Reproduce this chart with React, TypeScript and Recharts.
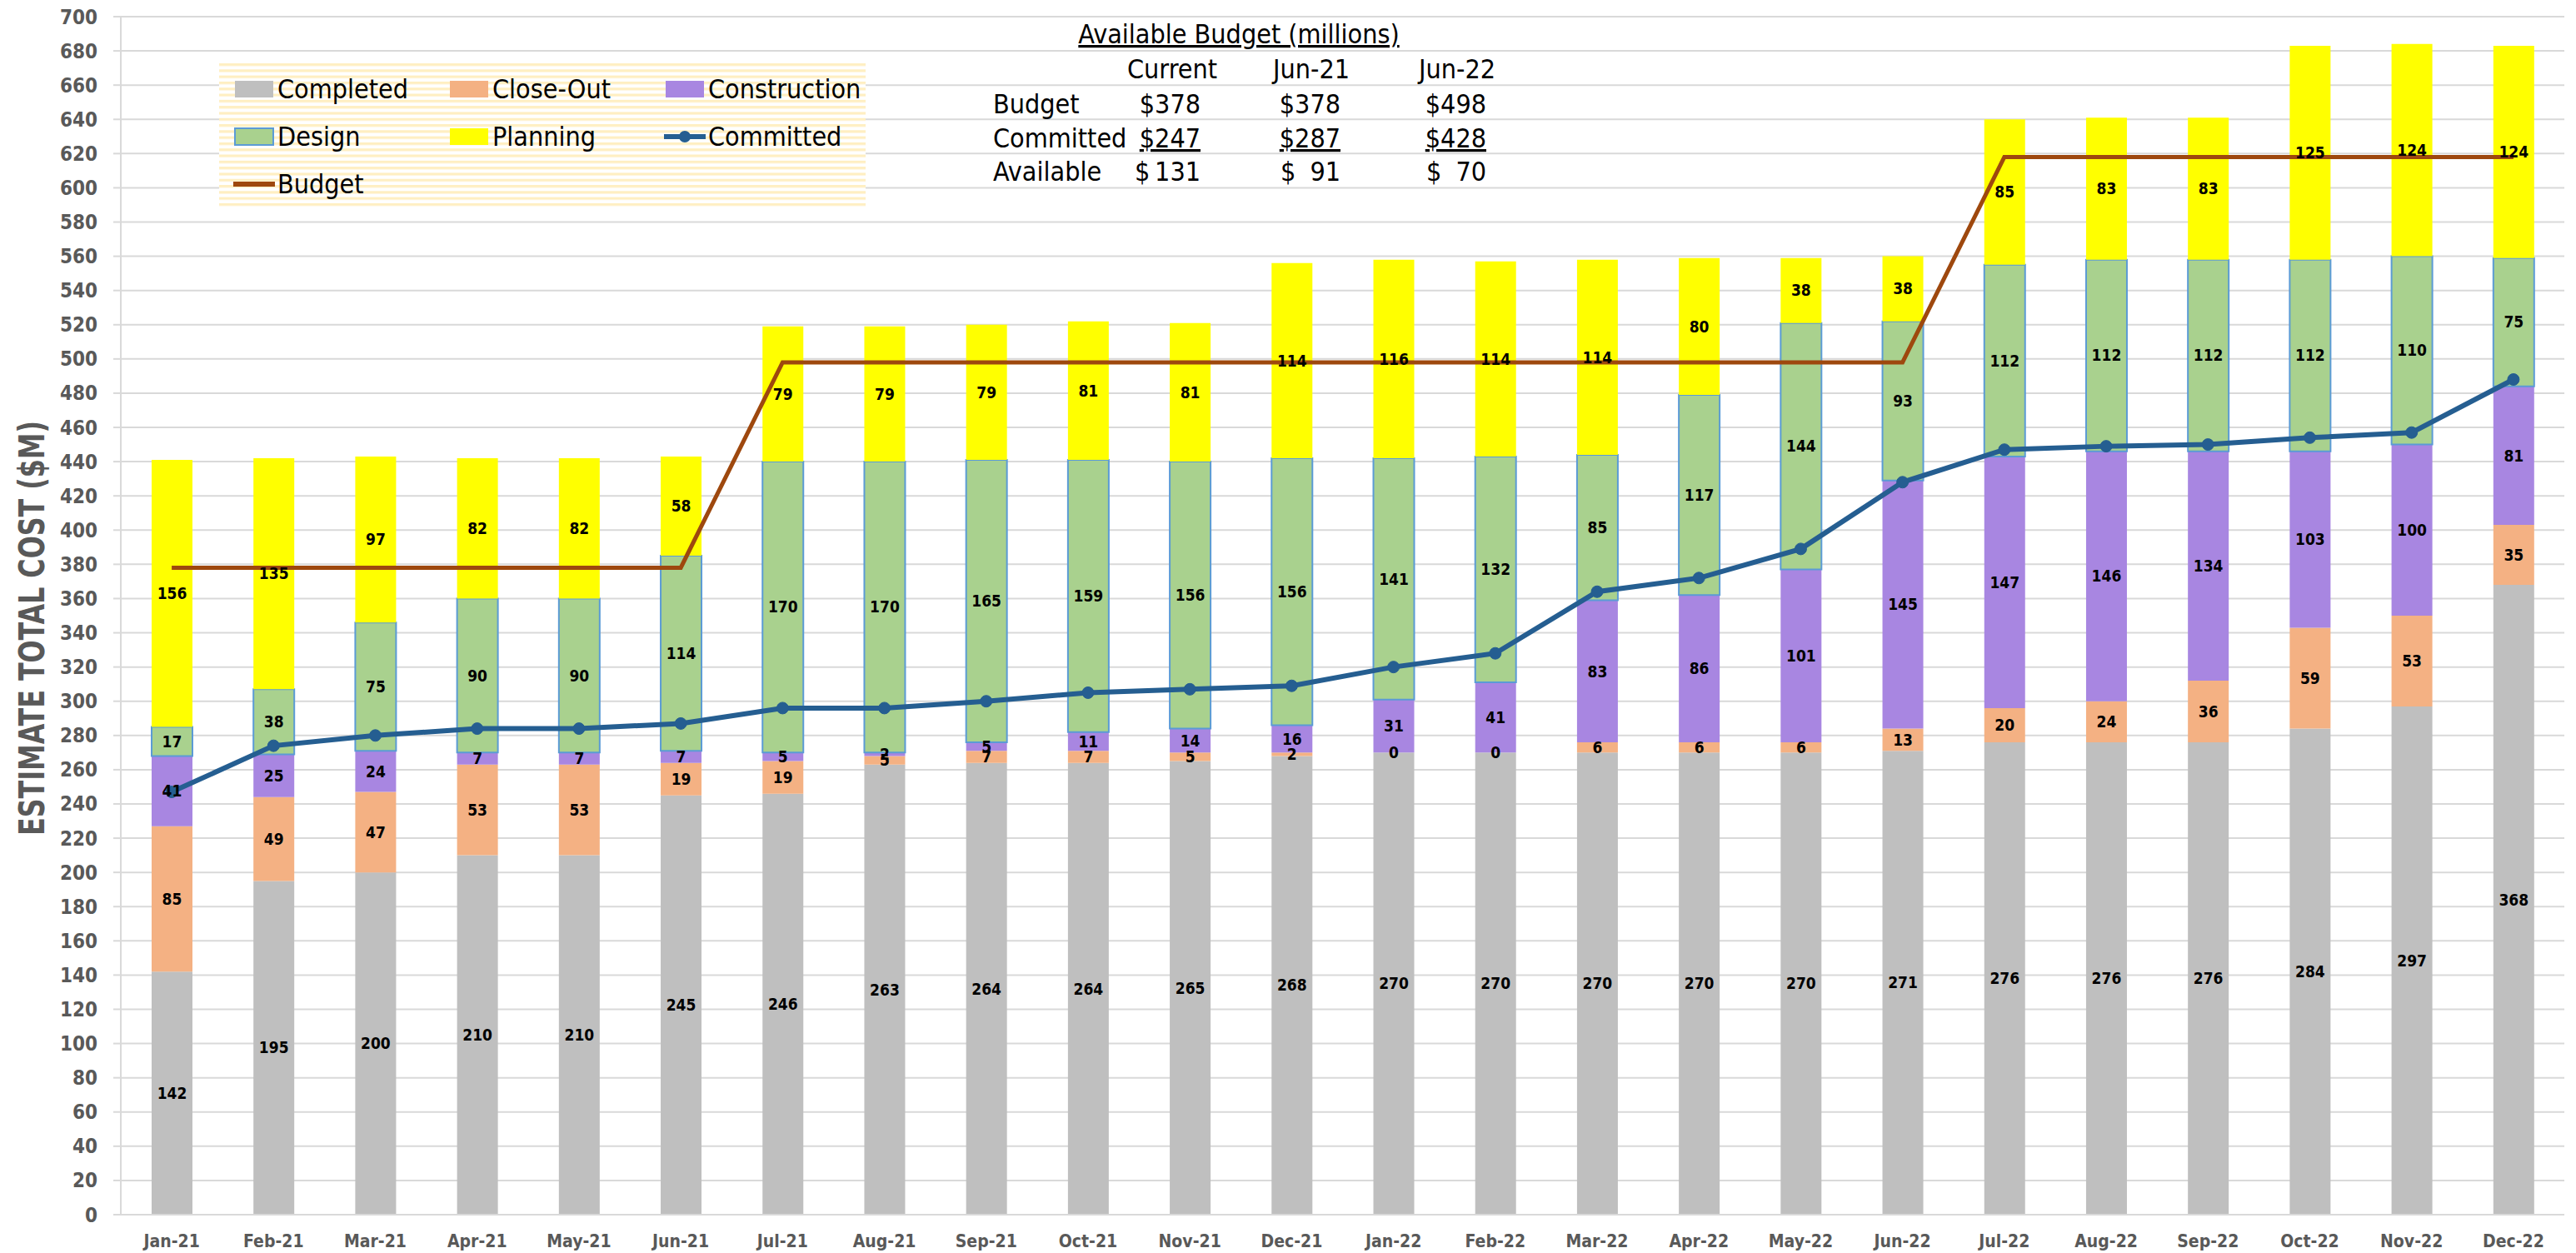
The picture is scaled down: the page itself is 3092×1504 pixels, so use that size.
import React from 'react';
import { ComposedChart, Bar, Line, XAxis, YAxis, CartesianGrid, LabelList, Label } from 'recharts';

const FONT = "'Liberation Sans Narrow', 'DejaVu Sans Condensed', 'Open Sans', sans-serif";

const months = ['Jan-21','Feb-21','Mar-21','Apr-21','May-21','Jun-21','Jul-21','Aug-21','Sep-21','Oct-21','Nov-21','Dec-21','Jan-22','Feb-22','Mar-22','Apr-22','May-22','Jun-22','Jul-22','Aug-22','Sep-22','Oct-22','Nov-22','Dec-22'];
const completed = [142,195,200,210,210,245,246,263,264,264,265,268,270,270,270,270,270,271,276,276,276,284,297,368];
const closeOut = [85,49,47,53,53,19,19,5,7,7,5,2,0,0,6,6,6,13,20,24,36,59,53,35];
const construction = [41,25,24,7,7,7,5,2,5,11,14,16,31,41,83,86,101,145,147,146,134,103,100,81];
const design = [17,38,75,90,90,114,170,170,165,159,156,156,141,132,85,117,144,93,112,112,112,112,110,75];
const planning = [156,135,97,82,82,58,79,79,79,81,81,114,116,114,114,80,38,38,85,83,83,125,124,124];
const committed = [247,274,280,284,284,287,296,296,300,305,307,309,320,328,364,372,389,428,447,449,450,454,457,488];
const budget = [378,378,378,378,378,378,498,498,498,498,498,498,498,498,498,498,498,498,618,618,618,618,618,618];
const yTicks = [0,20,40,60,80,100,120,140,160,180,200,220,240,260,280,300,320,340,360,380,400,420,440,460,480,500,520,540,560,580,600,620,640,660,680,700];

const tableCols = ['Current','Jun-21','Jun-22'];
const tableBudget = ['$378','$378','$498'];
const tableCommitted = ['$247','$287','$428'];
const tableAvailable = ['131','91','70'];

const COLORS = {
  completed: '#BFBFBF',
  closeOut: '#F4B183',
  construction: '#A886E1',
  design: '#A9D18E',
  designStroke: '#5B9BD5',
  planning: '#FFFF00',
  committed: '#255E91',
  budget: '#9E480E',
};

const data = months.map((m, i) => ({
  month: m,
  completed: completed[i],
  closeOut: closeOut[i],
  construction: construction[i],
  design: design[i],
  planning: planning[i],
  committed: committed[i],
  budget: budget[i],
}));

const stackKeys = [
  { key: 'completed', name: 'Completed', color: COLORS.completed },
  { key: 'closeOut', name: 'Close-Out', color: COLORS.closeOut },
  { key: 'construction', name: 'Construction', color: COLORS.construction },
  { key: 'design', name: 'Design', color: COLORS.design, stroke: COLORS.designStroke },
  { key: 'planning', name: 'Planning', color: COLORS.planning },
];

const labelProps = { position: 'center' as const, fill: '#000', fontSize: 19, fontWeight: 700, fontFamily: FONT };

const legendItems = [
  { name: 'Completed', kind: 'rect', color: COLORS.completed },
  { name: 'Close-Out', kind: 'rect', color: COLORS.closeOut },
  { name: 'Construction', kind: 'rect', color: COLORS.construction },
  { name: 'Design', kind: 'rect', color: COLORS.design, stroke: COLORS.designStroke },
  { name: 'Planning', kind: 'rect', color: COLORS.planning },
  { name: 'Committed', kind: 'lineDot', color: COLORS.committed },
  { name: 'Budget', kind: 'line', color: COLORS.budget },
];

function Overlay() {
  const colX = [282, 540, 799];
  const rowY = [107, 164, 221];
  const valRight = [1441, 1609, 1784];
  const dollarLeft = [1362, 1537, 1712];
  const colCenter = [1407, 1574, 1749];
  return (
    <svg width={3092} height={1504} style={{ position: 'absolute', left: 0, top: 0, pointerEvents: 'none' }} fontFamily={FONT}>
      <defs>
        <pattern id="stripes" x="0" y="76" width="10" height="7.3" patternUnits="userSpaceOnUse">
          <rect x="0" y="0" width="10" height="7.3" fill="#FFFFFF" />
          <rect x="0" y="0" width="10" height="3.2" fill="#FFEFC2" />
        </pattern>
      </defs>
      <rect x={263} y={76} width={776} height={174} fill="url(#stripes)" />
      {legendItems.map((it, i) => {
        const cx = colX[i % 3];
        const cy = rowY[Math.floor(i / 3)];
        return (
          <g key={it.name}>
            {it.kind === 'rect' && (
              <rect x={cx} y={cy - 10} width={46} height={20} fill={it.color} stroke={it.stroke || 'none'} strokeWidth={it.stroke ? 2 : 0} />
            )}
            {it.kind !== 'rect' && (
              <line x1={cx - 2} x2={cx + 48} y1={cy} y2={cy} stroke={it.color} strokeWidth={6} />
            )}
            {it.kind === 'lineDot' && <circle cx={cx + 23} cy={cy} r={7} fill={it.color} />}
            <text x={cx + 51} y={cy + 11} fontSize={32} fill="#000">{it.name}</text>
          </g>
        );
      })}
      <text x={1487} y={52} fontSize={32} textAnchor="middle" fill="#000" style={{ textDecoration: 'underline' }}>Available Budget (millions)</text>
      {tableCols.map((c, i) => (
        <text key={c} x={colCenter[i]} y={94} fontSize={32} textAnchor="middle" fill="#000">{c}</text>
      ))}
      <text x={1192} y={136} fontSize={32} fill="#000">Budget</text>
      <text x={1192} y={177} fontSize={32} fill="#000">Committed</text>
      <text x={1192} y={217} fontSize={32} fill="#000">Available</text>
      {tableBudget.map((v, i) => (
        <text key={'b' + i} x={valRight[i]} y={136} fontSize={32} textAnchor="end" fill="#000">{v}</text>
      ))}
      {tableCommitted.map((v, i) => (
        <text key={'c' + i} x={valRight[i]} y={177} fontSize={32} textAnchor="end" fill="#000" style={{ textDecoration: 'underline' }}>{v}</text>
      ))}
      {tableAvailable.map((v, i) => (
        <g key={'a' + i}>
          <text x={dollarLeft[i]} y={217} fontSize={32} fill="#000">$</text>
          <text x={valRight[i]} y={217} fontSize={32} textAnchor="end" fill="#000">{v}</text>
        </g>
      ))}
    </svg>
  );
}

export default function App() {
  return (
    <div style={{ position: 'absolute', left: 0, top: 0, width: 3092, height: 1504, background: '#fff', fontFamily: FONT }}>
      <ComposedChart width={3092} height={1504} data={data} barGap={-49} margin={{ top: 20, right: 14, bottom: 0, left: 0 }}>
        <CartesianGrid vertical={false} stroke="#D9D9D9" strokeWidth={2} />
        <XAxis
          dataKey="month"
          height={46}
          interval={0}
          tickLine={false}
          tickSize={0}
          tickMargin={24}
          axisLine={{ stroke: '#D9D9D9', strokeWidth: 2 }}
          tick={{ fill: '#595959', fontSize: 21, fontWeight: 700, fontFamily: FONT }}
        />
        <YAxis
          domain={[0, 700]}
          ticks={yTicks}
          interval={0}
          width={145}
          tickSize={9}
          tickMargin={19}
          tickLine={{ stroke: '#D9D9D9', strokeWidth: 2 }}
          axisLine={{ stroke: '#D9D9D9', strokeWidth: 2 }}
          tick={{ fill: '#595959', fontSize: 24, fontWeight: 700, fontFamily: FONT }}
        >
          <Label
            content={() => (
              <text x={38} y={754} transform="rotate(-90 38 754)" textAnchor="middle" dominantBaseline="central" fontSize={42} fontWeight={700} fill="#595959" fontFamily={FONT} textLength={498} lengthAdjust="spacingAndGlyphs">
                ESTIMATE TOTAL COST ($M)
              </text>
            )}
          />
        </YAxis>
        {stackKeys.map((s) => (
          <Bar key={s.key} dataKey={s.key} name={s.name} stackId="a" fill={s.color} stroke={s.stroke || 'none'} strokeWidth={s.stroke ? 2 : 0} barSize={49} isAnimationActive={false} />
        ))}
        <Line dataKey="budget" name="Budget" type="linear" stroke={COLORS.budget} strokeWidth={5} dot={false} isAnimationActive={false} />
        <Line dataKey="committed" name="Committed" type="linear" stroke={COLORS.committed} strokeWidth={6} dot={{ r: 7, fill: COLORS.committed, stroke: COLORS.committed, strokeWidth: 1 }} isAnimationActive={false} />
        {stackKeys.map((s) => (
          <Bar key={'lbl-' + s.key} dataKey={s.key} legendType="none" stackId="labels" fill="transparent" barSize={49} minPointSize={0.01} isAnimationActive={false}>
            <LabelList dataKey={s.key} {...labelProps} />
          </Bar>
        ))}
      </ComposedChart>
      <Overlay />
    </div>
  );
}
